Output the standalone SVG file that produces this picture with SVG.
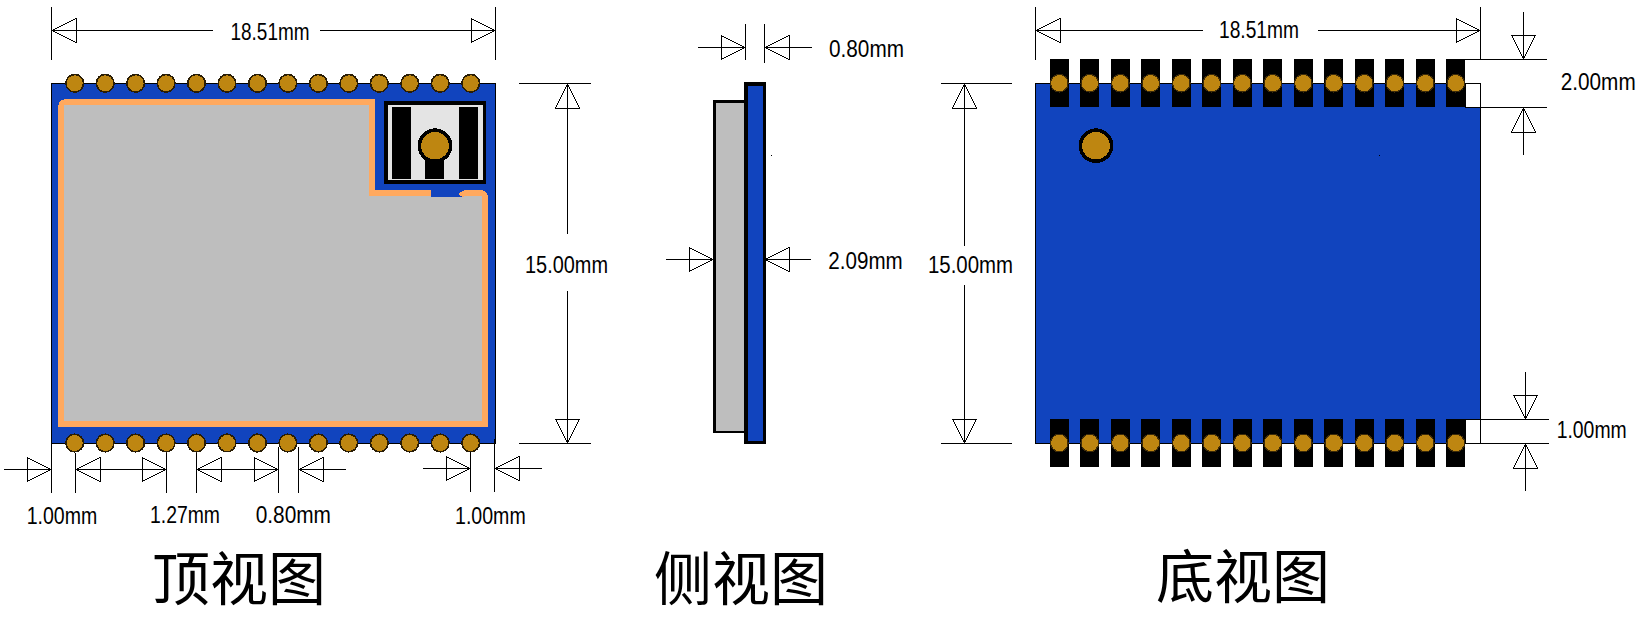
<svg xmlns="http://www.w3.org/2000/svg" width="1643" height="617" viewBox="0 0 1643 617">
<style>
svg{shape-rendering:crispEdges}
.ln{stroke:#000;stroke-width:1;fill:none}
.dim{stroke:#000;stroke-width:1;fill:none;marker-end:url(#tri)}
.dim2{stroke:#000;stroke-width:1;fill:none;marker-start:url(#tri);marker-end:url(#tri)}
.tri{stroke:#000;stroke-width:1;fill:none}
.lab{font-family:"Liberation Sans Narrow","Liberation Sans",sans-serif;font-size:23px;fill:#000}
.ttl{font-family:"Noto Sans CJK SC",sans-serif;font-size:58px;fill:#000;letter-spacing:0}
.pcb{fill:#1144BE}
.pad{fill:#BE8611;stroke:#3C2A08;stroke-width:1.2}
.padt{fill:#BE8611;stroke:#2A1D05;stroke-width:1.6}
.big{fill:#BE8611;stroke:#000;stroke-width:3.6}
.gray{fill:#BEBEBE}
</style>
<defs>
<marker id="tri" markerUnits="userSpaceOnUse" markerWidth="60" markerHeight="60" refX="30" refY="30" orient="auto-start-reverse" overflow="visible"><path class="tri" d="M30 30L6 18V42Z"/></marker>
<circle id="padtop" class="padt" r="8.8"/>
<circle id="padb" class="pad" r="8.8"/>
<rect id="leg" x="-9.5" y="-23.8" width="19" height="47.6" fill="#000"/>
</defs>

<g id="top-view">
<rect class="pcb" x="51.5" y="83.5" width="444" height="360" stroke="#000" stroke-width="1"/>
<path class="gray" d="M61 108Q61 102 67 102H372V193H431V197H462V193H479Q485 193 485 199V424H61Z"/>
<path d="M431 193H372V102H66Q61 102 61 107V424H485V197Q485 193 481 193H466Q463 193 461 196" fill="none" stroke="#FFA95F" stroke-width="5.6"/>
<g id="rf-connector">
<rect x="385.8" y="103" width="98.6" height="79" fill="#E4E4E4" stroke="#000" stroke-width="3.6"/>
<rect x="392" y="107" width="19" height="72" fill="#000"/>
<rect x="459" y="107" width="19" height="72" fill="#000"/>
<rect x="425" y="146" width="19" height="33" fill="#000"/>
<circle class="big" cx="435" cy="145.7" r="15.6"/>
</g>
<g id="top-pads">
<use href="#padtop" x="74.7" y="83.3"/><use href="#padtop" x="105.2" y="83.3"/><use href="#padtop" x="135.6" y="83.3"/><use href="#padtop" x="166.1" y="83.3"/><use href="#padtop" x="196.5" y="83.3"/><use href="#padtop" x="227" y="83.3"/><use href="#padtop" x="257.5" y="83.3"/><use href="#padtop" x="287.9" y="83.3"/><use href="#padtop" x="318.4" y="83.3"/><use href="#padtop" x="348.8" y="83.3"/><use href="#padtop" x="379.3" y="83.3"/><use href="#padtop" x="409.8" y="83.3"/><use href="#padtop" x="440.2" y="83.3"/><use href="#padtop" x="470.7" y="83.3"/>
<use href="#padtop" x="74.7" y="443"/><use href="#padtop" x="105.2" y="443"/><use href="#padtop" x="135.6" y="443"/><use href="#padtop" x="166.1" y="443"/><use href="#padtop" x="196.5" y="443"/><use href="#padtop" x="227" y="443"/><use href="#padtop" x="257.5" y="443"/><use href="#padtop" x="287.9" y="443"/><use href="#padtop" x="318.4" y="443"/><use href="#padtop" x="348.8" y="443"/><use href="#padtop" x="379.3" y="443"/><use href="#padtop" x="409.8" y="443"/><use href="#padtop" x="440.2" y="443"/><use href="#padtop" x="470.7" y="443"/>
</g>
<text class="ttl" x="152" y="600">顶视图</text>
</g>

<g id="side-view">
<rect class="gray" x="714.6" y="101.4" width="31" height="330.6" stroke="#000" stroke-width="2.8"/>
<rect class="pcb" x="746" y="84" width="18.4" height="358.6" stroke="#000" stroke-width="3.4"/>
<rect x="771" y="155" width="1" height="1" fill="#000"/>
<text class="ttl" x="654" y="600">侧视图</text>
</g>

<g id="bottom-view">
<path class="pcb" d="M1035.5 83.5H1465V107.5H1480.5V419.5H1465V443.5H1035.5Z" stroke="#000" stroke-width="1"/>
<g id="bottom-legs">
<use href="#leg" x="1059.3" y="83.2"/><use href="#leg" x="1089.8" y="83.2"/><use href="#leg" x="1120.3" y="83.2"/><use href="#leg" x="1150.8" y="83.2"/><use href="#leg" x="1181.3" y="83.2"/><use href="#leg" x="1211.8" y="83.2"/><use href="#leg" x="1242.3" y="83.2"/><use href="#leg" x="1272.8" y="83.2"/><use href="#leg" x="1303.3" y="83.2"/><use href="#leg" x="1333.8" y="83.2"/><use href="#leg" x="1364.3" y="83.2"/><use href="#leg" x="1394.8" y="83.2"/><use href="#leg" x="1425.3" y="83.2"/><use href="#leg" x="1455.8" y="83.2"/>
<use href="#leg" x="1059.3" y="443"/><use href="#leg" x="1089.8" y="443"/><use href="#leg" x="1120.3" y="443"/><use href="#leg" x="1150.8" y="443"/><use href="#leg" x="1181.3" y="443"/><use href="#leg" x="1211.8" y="443"/><use href="#leg" x="1242.3" y="443"/><use href="#leg" x="1272.8" y="443"/><use href="#leg" x="1303.3" y="443"/><use href="#leg" x="1333.8" y="443"/><use href="#leg" x="1364.3" y="443"/><use href="#leg" x="1394.8" y="443"/><use href="#leg" x="1425.3" y="443"/><use href="#leg" x="1455.8" y="443"/>
</g>
<g id="bottom-pads">
<use href="#padb" x="1059.3" y="83.2"/><use href="#padb" x="1089.8" y="83.2"/><use href="#padb" x="1120.3" y="83.2"/><use href="#padb" x="1150.8" y="83.2"/><use href="#padb" x="1181.3" y="83.2"/><use href="#padb" x="1211.8" y="83.2"/><use href="#padb" x="1242.3" y="83.2"/><use href="#padb" x="1272.8" y="83.2"/><use href="#padb" x="1303.3" y="83.2"/><use href="#padb" x="1333.8" y="83.2"/><use href="#padb" x="1364.3" y="83.2"/><use href="#padb" x="1394.8" y="83.2"/><use href="#padb" x="1425.3" y="83.2"/><use href="#padb" x="1455.8" y="83.2"/>
<use href="#padb" x="1059.3" y="443"/><use href="#padb" x="1089.8" y="443"/><use href="#padb" x="1120.3" y="443"/><use href="#padb" x="1150.8" y="443"/><use href="#padb" x="1181.3" y="443"/><use href="#padb" x="1211.8" y="443"/><use href="#padb" x="1242.3" y="443"/><use href="#padb" x="1272.8" y="443"/><use href="#padb" x="1303.3" y="443"/><use href="#padb" x="1333.8" y="443"/><use href="#padb" x="1364.3" y="443"/><use href="#padb" x="1394.8" y="443"/><use href="#padb" x="1425.3" y="443"/><use href="#padb" x="1455.8" y="443"/>
</g>
<circle class="big" cx="1096" cy="145.7" r="15.6"/>
<rect x="1379" y="155" width="1" height="1" fill="#000"/>
<text class="ttl" x="1156" y="598">底视图</text>
</g>

<g id="connectors">
<path class="ln" d="M51.5 7V60M495.5 7V60"/>
<path class="dim" d="M213 30.5H52"/>
<path class="dim" d="M320 30.5H495"/>
<path class="ln" d="M519 83.5H591M519 443.5H591"/>
<path class="dim" d="M567.5 234V84"/>
<path class="dim" d="M567.5 291V443"/>
<path class="ln" d="M51.5 443V493M75.5 453V493M166.5 453V493M196.5 453V493M278.5 447V493M298.5 447V493M470.5 452V492M494.5 439V492"/>
<path class="dim" d="M4 469.5H51"/>
<path class="dim2" d="M76 469.5H166"/>
<path class="dim2" d="M197 469.5H278"/>
<path class="dim" d="M346 469.5H299"/>
<path class="dim" d="M423 468.5H470"/>
<path class="dim" d="M542 468.5H495"/>
<path class="ln" d="M745.5 24V60M764.5 24V63"/>
<path class="dim" d="M698 47.5H745"/>
<path class="dim" d="M812 47.5H765"/>
<path class="dim" d="M666 259.5H713"/>
<path class="dim" d="M811 259.5H765"/>
<path class="ln" d="M1035.5 7V60M1480.5 7V59"/>
<path class="dim" d="M1203 30.5H1036"/>
<path class="dim" d="M1318 30.5H1480"/>
<path class="ln" d="M941 83.5H1012M941 443.5H1012"/>
<path class="dim" d="M964.5 246V84"/>
<path class="dim" d="M964.5 285V443"/>
<path class="ln" d="M1465 59.5H1547M1465 107.5H1547M1465 83.5H1480.5V107M1465 419.5H1549M1465 443.5H1549M1480.5 420V443"/>
<path class="dim" d="M1523.5 12V59"/>
<path class="dim" d="M1523.5 155V108"/>
<path class="dim" d="M1525.5 372V419"/>
<path class="dim" d="M1525.5 491V444"/>
</g>

<g id="dimension-labels">
<text class="lab" x="230.5" y="40" textLength="79" lengthAdjust="spacingAndGlyphs">18.51mm</text>
<text class="lab" x="525" y="272.7" textLength="83" lengthAdjust="spacingAndGlyphs">15.00mm</text>
<text class="lab" x="26.7" y="524" textLength="70.6" lengthAdjust="spacingAndGlyphs">1.00mm</text>
<text class="lab" x="150" y="522.7" textLength="70" lengthAdjust="spacingAndGlyphs">1.27mm</text>
<text class="lab" x="255.7" y="523.3" textLength="75.3" lengthAdjust="spacingAndGlyphs">0.80mm</text>
<text class="lab" x="455" y="524" textLength="70.7" lengthAdjust="spacingAndGlyphs">1.00mm</text>
<text class="lab" x="829" y="57" textLength="75" lengthAdjust="spacingAndGlyphs">0.80mm</text>
<text class="lab" x="828.3" y="269" textLength="74.4" lengthAdjust="spacingAndGlyphs">2.09mm</text>
<text class="lab" x="1219" y="38" textLength="80" lengthAdjust="spacingAndGlyphs">18.51mm</text>
<text class="lab" x="928" y="272.5" textLength="85" lengthAdjust="spacingAndGlyphs">15.00mm</text>
<text class="lab" x="1560.7" y="90" textLength="75" lengthAdjust="spacingAndGlyphs">2.00mm</text>
<text class="lab" x="1556.7" y="438.3" textLength="70" lengthAdjust="spacingAndGlyphs">1.00mm</text>
</g>
</svg>
